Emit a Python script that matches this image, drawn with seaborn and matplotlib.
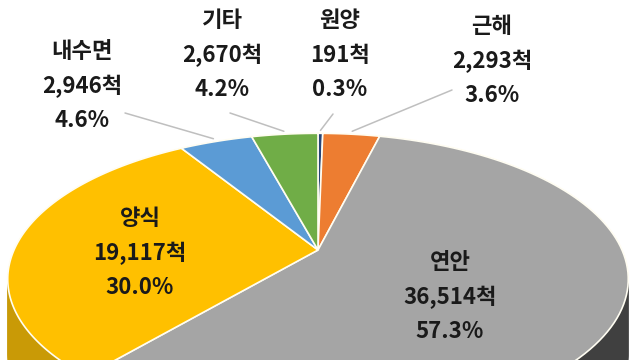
import numpy as np
import matplotlib
matplotlib.use("Agg")
import matplotlib.pyplot as plt
from matplotlib.patches import Polygon
import seaborn as sns

# ship counts by fishery type (clockwise from 12 o'clock)
categories = ['원양', '근해', '연안', '양식', '내수면', '기타']
ships = [191, 2293, 36514, 19117, 2946, 2670]
shares = [0.3, 3.6, 57.3, 30.0, 4.6, 4.2]

top_colors = ['#264478', '#ED7D31', '#A5A5A5', '#FFC000', '#5B9BD5', '#70AD47']
side_colors = ['#1B3056', '#B85E22', '#404040', '#C99A06', '#4479A8', '#528236']

# layout (pixels): label centres and leader line starts
label_pos = {'원양': (340, 55), '근해': (492, 61), '연안': (450, 297),
             '양식': (140, 253), '내수면': (82, 86), '기타': (222, 55)}
leader_start = {'원양': (333, 114), '근해': (452, 90), '내수면': (125, 113), '기타': (230, 113)}

# fake 3D: tilted disc with a bit of perspective
cx, cy = 318, 250
semi_x, semi_y = 304, 140
persp = 0.2
depth = 80


def project(x, y):
    d = 1 + persp * y
    return cx + semi_x * x / d, cy - semi_y * y / d


sns.set_theme(style='white')
plt.rcParams['font.family'] = ['Noto Sans CJK KR', 'DejaVu Sans']

fig = plt.figure(figsize=(6.4, 3.6), dpi=100)
ax = fig.add_axes([0, 0, 1, 1])
wedges, _ = ax.pie(ships, startangle=90, counterclock=False, radius=1)

outlines = []
mids = []
for w in wedges:
    t = np.radians(np.linspace(w.theta1, w.theta2, 120))
    xs = np.concatenate([[w.center[0]], w.center[0] + w.r * np.cos(t)])
    ys = np.concatenate([[w.center[1]], w.center[1] + w.r * np.sin(t)])
    px, py = project(xs, ys)
    outlines.append(np.column_stack([px, py]))
    mids.append(np.radians((w.theta1 + w.theta2) / 2))
    w.remove()

# side walls: stacked copies shifted downward
for off in np.linspace(depth, 0, 80):
    for pts, col in zip(outlines, side_colors):
        ax.add_patch(Polygon(pts + [0, off], closed=True, facecolor=col, edgecolor='none'))

# top face
for pts, col in zip(outlines, top_colors):
    ax.add_patch(Polygon(pts, closed=True, facecolor=col, edgecolor='#FFFDF2', linewidth=1.2))

# labels and leader lines
for cat, n, s, m in zip(categories, ships, shares, mids):
    lx, ly = label_pos[cat]
    ax.text(lx, ly, f"{cat}\n{n:,}척\n{s:.1f}%", ha='center', va='center',
            fontsize=16, fontweight='bold', linespacing=1.62, color='#1A1A1A')
    if cat in leader_start:
        sx, sy = leader_start[cat]
        ex, ey = project(1.03 * np.cos(m), 1.03 * np.sin(m))
        ax.plot([sx, ex], [sy, ey], color='#BFBFBF', lw=1.1)

ax.set_aspect('auto')
ax.set_xlim(0, 640)
ax.set_ylim(360, 0)
ax.axis('off')

fig.savefig('out.png', dpi=100)
